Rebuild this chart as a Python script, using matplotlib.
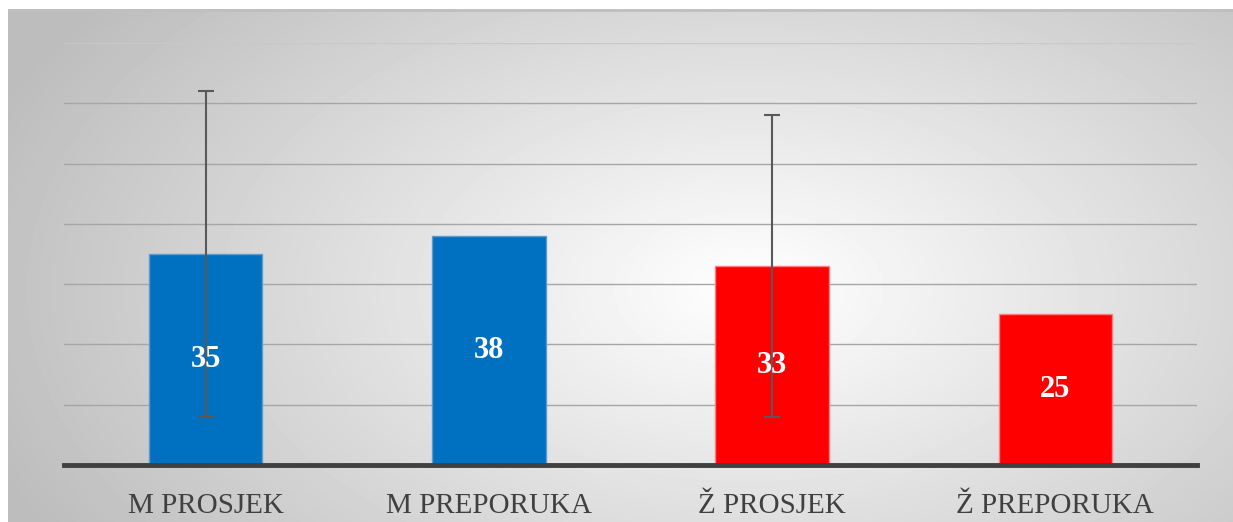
import numpy as np
import matplotlib.pyplot as plt

categories = ["M PROSJEK", "M PREPORUKA", "Ž PROSJEK", "Ž PREPORUKA"]
values = [35, 38, 33, 25]
errors = [27, None, 25, None]
colors = ["#0070C0", "#0070C0", "#FF0000", "#FF0000"]
edges = ["#5B9BD5", "#5B9BD5", "#FF7C80", "#FF7C80"]

W, H = 1233, 522
fig = plt.figure(figsize=(W / 100, H / 100), dpi=100)
fig.patch.set_facecolor("white")

# radial gradient background panel
bg = fig.add_axes([8 / W, 0, 1 - 8 / W, 1 - 9 / H])
yy, xx = np.mgrid[0:513, 0:1225]
d = np.sqrt(((xx - 740) / 740.0) ** 2 + ((yy - 280) / 430.0) ** 2)
shade = 1.0 - 0.26 * np.clip(d, 0, 1.1) / 1.1
bg.imshow(shade, cmap="gray", vmin=0, vmax=1, aspect="auto", interpolation="bilinear")
bg.set_axis_off()
bg.axhline(0, color="#bfbfbf", lw=2)

ax = fig.add_axes([64 / W, (H - 465) / H, (1197 - 64) / W, (465 - 43) / H])
ax.patch.set_alpha(0)
x = np.arange(len(categories))
ax.bar(x, values, width=0.4, color=colors, edgecolor=edges, linewidth=1, zorder=3)
for i, e in enumerate(errors):
    if e is not None:
        ax.errorbar(x[i], values[i], yerr=e, fmt="none", ecolor="#595959",
                    elinewidth=1.5, capsize=6, capthick=1.5, zorder=4)
for i, v in enumerate(values):
    ax.text(x[i], v / 2, str(v), ha="center", va="center", color="white",
            fontsize=22, fontweight="bold", family="Liberation Serif", zorder=5)

ax.set_xlim(-0.5, 3.5)
ax.set_ylim(0, 70)
ax.set_yticks(range(10, 71, 10))
ax.yaxis.grid(True, color="#a6a6a6", lw=1, zorder=0)
ax.yaxis.get_gridlines()[-1].set_color("#c8c8c8")
ax.tick_params(axis="y", left=False, labelleft=False)
ax.tick_params(axis="x", length=0, pad=20)
ax.set_xticks(x)
ax.set_xticklabels(categories, family="Liberation Serif", fontsize=21, color="#404040")
for s in ["top", "right", "left"]:
    ax.spines[s].set_visible(False)
ax.spines["bottom"].set_color("#404040")
ax.spines["bottom"].set_linewidth(3.5)
ax.spines["bottom"].set_zorder(6)

fig.savefig("out.png", dpi=100)
